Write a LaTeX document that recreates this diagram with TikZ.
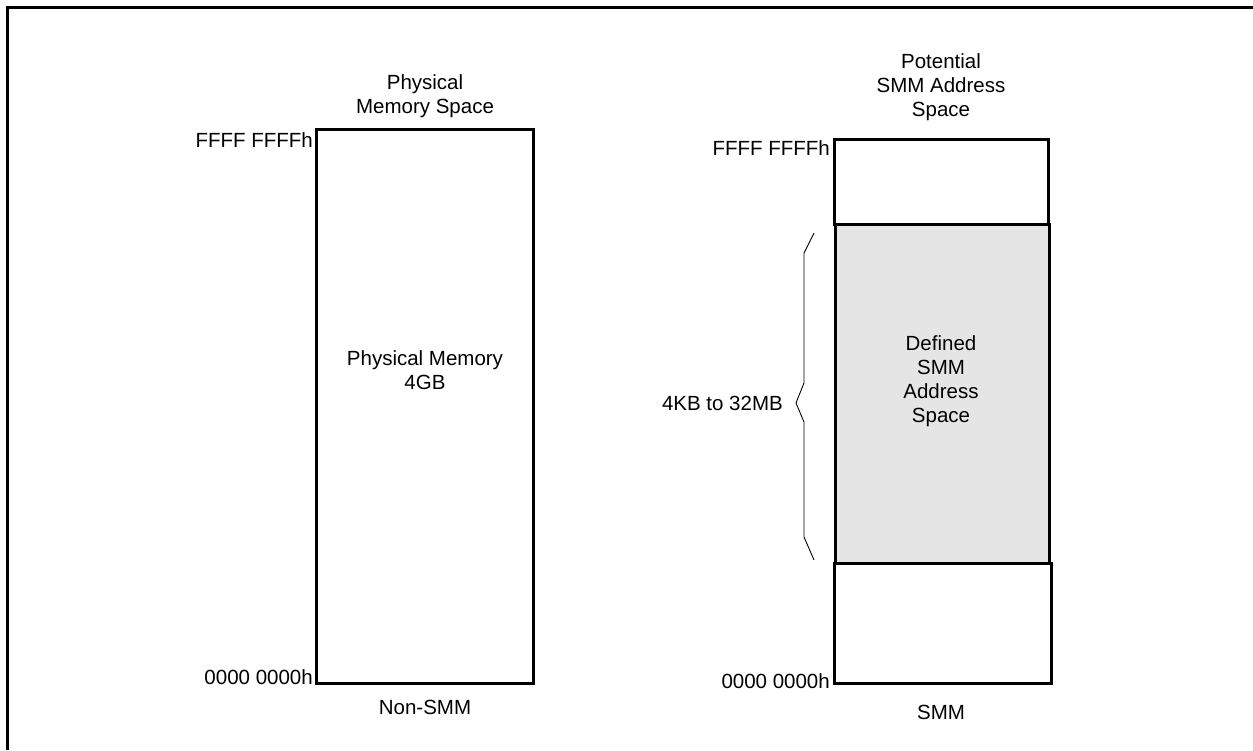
\documentclass[tikz,border=0pt]{standalone}
\usepackage{fontspec}
\setmainfont{Liberation Sans}
\begin{document}
\begin{tikzpicture}[x=1pt,y=-1pt,
  lbl/.style={font=\fontsize{20.5}{24}\selectfont, inner sep=0pt, align=center},
  box/.style={line width=3pt},
  brc/.style={line width=0.9pt, line join=miter}]
\useasboundingbox (0,0) rectangle (1253,750);
% frame (left and top edges)
\draw[line width=3pt] (7,750) -- (7,7) -- (1253,7);
% left box
\draw[box] (316,129) rectangle (533,683);
\node[lbl] (lt) at (425,96) {Physical\\Memory Space};
\node[lbl, anchor=east] (lhi) at (313,140) {FFFF FFFFh};
\node[lbl, anchor=east] (llo) at (313,677) {0000 0000h};
\node[lbl] (lmid) at (425,370) {Physical Memory\\4GB};
\node[lbl] (lbot) at (425,707) {Non-SMM};
% right boxes
\fill[black!10] (835,224) rectangle (1049,563);
\draw[box] (834,139) rectangle (1048,224);
\draw[box] (835,224) rectangle (1049,563);
\draw[box] (834,563) rectangle (1051,683);
\node[lbl] (rt) at (941,87) {Potential\\SMM Address\\Space};
\node[lbl, anchor=east] (rhi) at (830,148) {FFFF FFFFh};
\node[lbl, anchor=east] (rlo) at (830,681) {0000 0000h};
\node[lbl] (rmid) at (941,381) {Defined\\SMM\\Address\\Space};
\node[lbl] (rbot) at (941,712) {SMM};
% brace
\coordinate (bt) at (814,233);
\coordinate (bb) at (814,560);
\draw[brc] (bt) -- (804,253) -- (804,383) -- (796,403) -- (804,422) -- (804,537) -- (bb);
\node[lbl, anchor=east] (size) at (783,403) {4KB to 32MB};
\end{tikzpicture}
\end{document}
